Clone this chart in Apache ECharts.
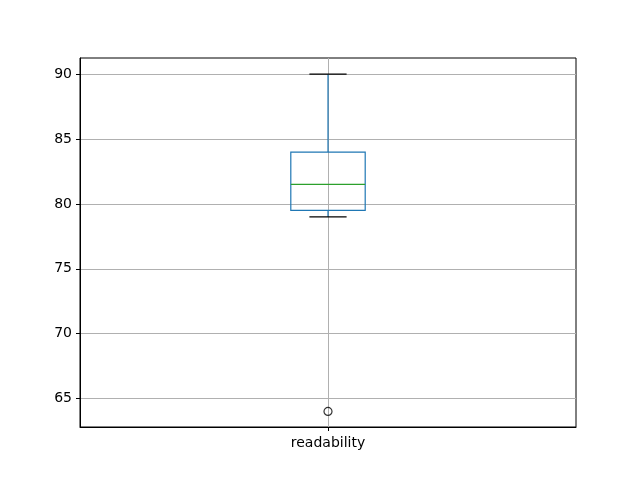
<!DOCTYPE html>
<html>
<head>
<meta charset="utf-8">
<script src="https://cdn.jsdelivr.net/npm/echarts@6/dist/echarts.min.js"></script>
<style>
  html, body { margin: 0; padding: 0; background: #fff; }
  #main { width: 640px; height: 480px; }
</style>
</head>
<body>
<div id="main"></div>
<script type="text/javascript">
// data
var categories = ['readability'];
// [low whisker, Q1, median, Q3, high whisker]
var boxStats = [[79, 79.5, 81.5, 84, 90]];
var outliers = [[0, 64]];
var yTicks = [65, 70, 75, 80, 85, 90];

var myChart = echarts.init(document.getElementById('main'));

function renderBox(params, api) {
    var i = api.value(0);
    var lo = api.coord([i, api.value(1)]);
    var q1 = api.coord([i, api.value(2)]);
    var med = api.coord([i, api.value(3)]);
    var q3 = api.coord([i, api.value(4)]);
    var hi = api.coord([i, api.value(5)]);
    var bw = api.size([1, 0])[0] * 0.15;
    var cx = lo[0];
    var blue = {stroke: '#1f77b4', lineWidth: 1.2, fill: null};
    return {
        type: 'group',
        children: [
            {type: 'line', shape: {x1: cx, y1: q3[1], x2: cx, y2: hi[1]}, style: blue},
            {type: 'line', shape: {x1: cx, y1: q1[1], x2: cx, y2: lo[1]}, style: blue},
            {type: 'rect', shape: {x: cx - bw / 2, y: q3[1], width: bw, height: q1[1] - q3[1]}, style: blue},
            {type: 'line', shape: {x1: cx - bw / 2, y1: med[1], x2: cx + bw / 2, y2: med[1]}, style: {stroke: '#2ca02c', lineWidth: 1.2}},
            {type: 'line', shape: {x1: cx - bw / 4, y1: hi[1], x2: cx + bw / 4, y2: hi[1]}, style: {stroke: '#000', lineWidth: 1.2}},
            {type: 'line', shape: {x1: cx - bw / 4, y1: lo[1], x2: cx + bw / 4, y2: lo[1]}, style: {stroke: '#000', lineWidth: 1.2}}
        ]
    };
}

var boxData = boxStats.map(function (s, i) { return [i].concat(s); });

myChart.setOption({
    animation: false,
    textStyle: {fontFamily: 'DejaVu Sans'},
    grid: {
        left: 80,
        right: 64,
        top: 58,
        bottom: 53,
        show: true,
        borderColor: '#000',
        borderWidth: 1
    },
    xAxis: {
        type: 'category',
        data: categories,
        boundaryGap: true,
        axisLine: {show: true, lineStyle: {color: '#000', width: 1}},
        axisTick: {show: true, alignWithLabel: true, length: 4, lineStyle: {color: '#000'}},
        axisLabel: {color: '#000', fontSize: 14, margin: 9},
        splitLine: {show: false}
    },
    yAxis: {
        type: 'value',
        min: 62.8,
        max: 91.25,
        axisLine: {show: true, lineStyle: {color: '#000', width: 1}},
        axisTick: {show: true, length: 4, lineStyle: {color: '#000'}, customValues: yTicks},
        axisLabel: {color: '#000', fontSize: 14, margin: 8, customValues: yTicks},
        splitLine: {show: true, lineStyle: {color: '#b0b0b0', width: 1}}
    },
    series: [
        {
            type: 'custom',
            renderItem: renderBox,
            encode: {x: 0, y: [1, 2, 3, 4, 5]},
            data: boxData,
            z: 3,
            markLine: {
                silent: true,
                symbol: 'none',
                label: {show: false},
                lineStyle: {color: '#b0b0b0', width: 1, type: 'solid'},
                data: [{xAxis: categories[0]}],
                z: 1
            }
        },
        {
            type: 'scatter',
            data: outliers,
            symbol: 'circle',
            symbolSize: 8,
            itemStyle: {color: 'rgba(0,0,0,0)', borderColor: '#000', borderWidth: 1.2},
            z: 4
        }
    ]
});
</script>
</body>
</html>
